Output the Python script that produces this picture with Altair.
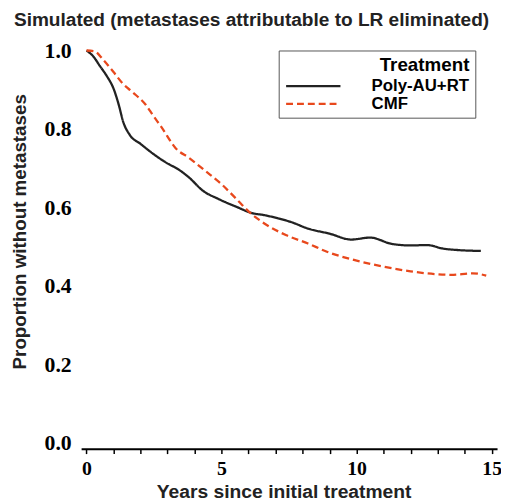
import altair as alt
import pandas as pd

title = "Simulated (metastases attributable to LR eliminated)"
legend_title = "Treatment"
series_names = ["Poly-AU+RT", "CMF"]
series_colors = ["#222222", "#E8481C"]

t_poly = [0, 0.25, 0.5, 0.75, 1.0, 1.2, 1.35, 1.6, 2.0, 2.5, 3.0, 3.4, 3.8, 4.3, 4.9,
          5.6, 6.1, 6.6, 7.1, 7.6, 8.2, 9.0, 9.8, 10.5, 11.3, 12.0, 12.6, 13.2, 13.8, 14.6]
v_poly = [1.0, 0.985, 0.96, 0.935, 0.903, 0.86, 0.82, 0.785, 0.762, 0.735, 0.712, 0.697,
          0.676, 0.643, 0.621, 0.600, 0.586, 0.580, 0.572, 0.562, 0.546, 0.533, 0.518,
          0.523, 0.507, 0.503, 0.504, 0.495, 0.491, 0.489]

t_cmf = [0, 0.3, 0.6, 1.0, 1.35, 1.7, 2.2, 2.45, 2.8, 3.3, 3.8, 4.4, 5.0, 5.5, 6.0, 6.7,
         7.4, 8.2, 8.9, 9.9, 11.0, 12.0, 12.9, 13.5, 14.3, 14.8]
v_cmf = [1.0, 0.998, 0.978, 0.945, 0.915, 0.894, 0.861, 0.836, 0.802, 0.751, 0.726, 0.693,
         0.659, 0.625, 0.590, 0.554, 0.529, 0.508, 0.487, 0.466, 0.449, 0.437, 0.430,
         0.428, 0.432, 0.426]

x_ticks = list(range(0, 16))
y_ticks = [0.0, 0.2, 0.4, 0.6, 0.8, 1.0]

df = pd.concat([
    pd.DataFrame({"t": t_poly, "v": v_poly, "Treatment": series_names[0]}),
    pd.DataFrame({"t": t_cmf, "v": v_cmf, "Treatment": series_names[1]}),
])


def make_legend():
    return alt.Legend(title=legend_title, orient="none", legendX=200, legendY=0,
                      symbolType="stroke", symbolSize=3025, clipHeight=14,
                      symbolStrokeWidth=2.3, labelOffset=30,
                      labelFont="Liberation Sans", labelFontWeight="bold",
                      labelFontSize=17, labelColor="black",
                      titleFont="Liberation Sans", titleFontWeight="bold",
                      titleFontSize=19, titleColor="black",
                      titleAnchor="end", titlePadding=4,
                      strokeColor="#555555", fillColor="white",
                      padding=6, rowPadding=1)


chart = alt.Chart(df).mark_line(interpolate="monotone", strokeWidth=2.3).encode(
    x=alt.X("t:Q", scale=alt.Scale(domain=[-0.2, 15.2], nice=False, zero=False),
            axis=alt.Axis(title="Years since initial treatment", values=x_ticks,
                          labelExpr="datum.value % 5 == 0 ? datum.label : ''",
                          grid=False, offset=6, domainColor="black", domainWidth=2,
                          tickColor="black", tickSize=5, tickWidth=1.5,
                          labelFont="Liberation Serif", labelFontWeight="bold",
                          labelFontSize=20, labelColor="black", labelPadding=5,
                          titleFont="Liberation Sans", titleFontWeight="bold",
                          titleFontSize=19.5, titleColor="#222222", titlePadding=4,
                          titleX=205)),
    y=alt.Y("v:Q", scale=alt.Scale(domain=[0, 1], nice=False),
            axis=alt.Axis(title="Proportion without metastases", values=y_ticks,
                          format=".1f", grid=False, domain=False, ticks=False,
                          labelFont="Liberation Serif", labelFontWeight="bold",
                          labelFontSize=22, labelColor="black", labelPadding=10,
                          titleFont="Liberation Sans", titleFontWeight="bold",
                          titleFontSize=19, titleColor="#222222", titlePadding=15,
                          titleY=183)),
    color=alt.Color("Treatment:N",
                    scale=alt.Scale(domain=series_names, range=series_colors),
                    legend=make_legend()),
    strokeDash=alt.StrokeDash("Treatment:N",
                              scale=alt.Scale(domain=series_names, range=[[1, 0], [7, 4]]),
                              legend=make_legend()),
).properties(
    width=421, height=397,
    title=alt.TitleParams(title, font="Liberation Sans", fontWeight="bold", fontSize=19.3,
                          color="#222222", anchor="middle", frame="group", dx=-38,
                          offset=9),
    padding={"left": 74, "top": 40, "right": 4, "bottom": 59},
    autosize=alt.AutoSizeParams(type="none"),
).configure_view(stroke=None)

chart.save("out.html", embed_options={"renderer": "svg", "actions": False})
